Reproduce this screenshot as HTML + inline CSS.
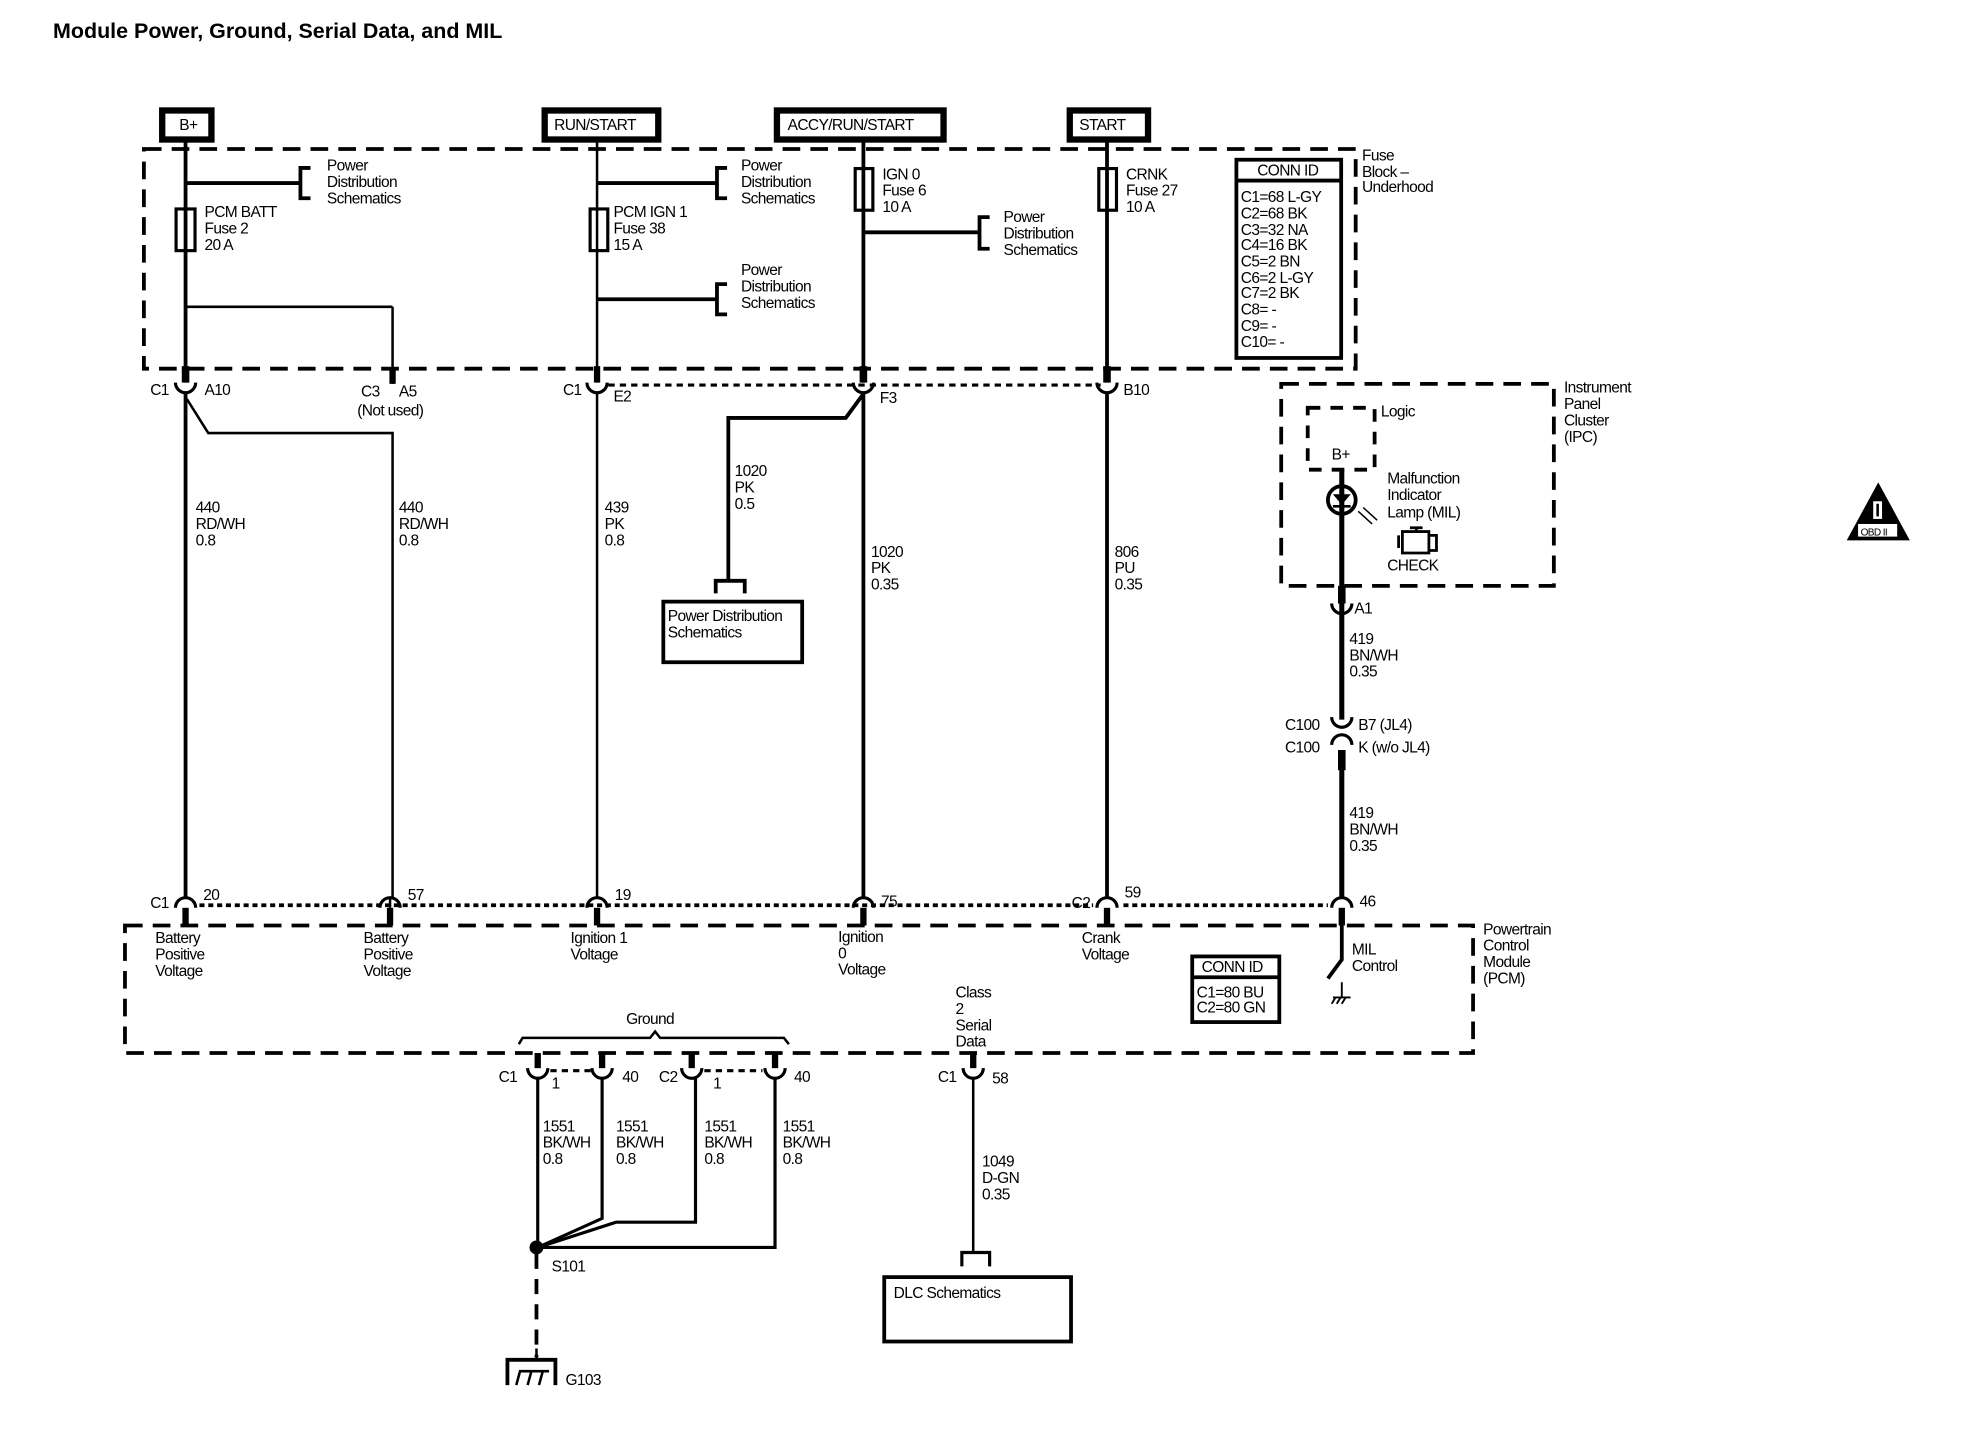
<!DOCTYPE html>
<html><head><meta charset="utf-8"><style>
html,body{margin:0;padding:0;background:#fff;}
svg{display:block}
text{font-family:"Liberation Sans",sans-serif;font-size:12.3px;fill:#000;letter-spacing:-0.5px}
.b{font-weight:bold}
</style></head><body>
<svg width="1980" height="1440" viewBox="0 0 1568.6 1140.5" preserveAspectRatio="none" xmlns="http://www.w3.org/2000/svg">
<text x="42" y="30" class="b" style="font-size:17px;letter-spacing:0">Module Power, Ground, Serial Data, and MIL</text>

<g fill="none" stroke="#000">
<rect x="128.5" y="87.5" width="39" height="23" stroke-width="5"/>
<rect x="431.5" y="87.5" width="90" height="23" stroke-width="5"/>
<rect x="615.5" y="87.5" width="132" height="23" stroke-width="5"/>
<rect x="847.5" y="87.5" width="62" height="23" stroke-width="5"/>
<rect x="114" y="118" width="960" height="174" stroke-width="3" stroke-dasharray="14,8"/>
<rect x="1015" y="304" width="216" height="160" stroke-width="3" stroke-dasharray="14,8"/>
<rect x="1036" y="323" width="53" height="49" stroke-width="3" stroke-dasharray="10,8"/>
<rect x="99" y="733" width="1068" height="101" stroke-width="3" stroke-dasharray="14,8"/>

<line x1="147" y1="111" x2="147" y2="303" stroke-width="3"/>
<line x1="147" y1="145" x2="238" y2="145" stroke-width="3"/>
<path d="M246 133 H238 V157 H246" stroke-width="3"/>
<rect x="139.5" y="165.5" width="15" height="33" stroke-width="2.5"/>
<line x1="147" y1="243" x2="311" y2="243" stroke-width="2"/>
<line x1="311" y1="243" x2="311" y2="304" stroke-width="2"/>
<line x1="311" y1="292" x2="311" y2="304" stroke-width="5"/>
<line x1="147" y1="290" x2="147" y2="303" stroke-width="6"/>
<path d="M139 303 A8 8 0 0 0 155 303" stroke-width="2.5"/>
<line x1="147" y1="311" x2="147" y2="711" stroke-width="3"/>
<path d="M148 316 L165 343 H311 V711" stroke-width="2"/>

<line x1="473" y1="111" x2="473" y2="303" stroke-width="2"/>
<line x1="473" y1="145" x2="568" y2="145" stroke-width="3"/>
<path d="M576 133 H568 V157 H576" stroke-width="3"/>
<rect x="467.5" y="165.5" width="14" height="33" stroke-width="2.5"/>
<line x1="473" y1="237" x2="568" y2="237" stroke-width="3"/>
<path d="M576 225 H568 V249 H576" stroke-width="3"/>
<line x1="473" y1="290" x2="473" y2="303" stroke-width="5"/>
<path d="M465 303 A8 8 0 0 0 481 303" stroke-width="2.5"/>
<line x1="473" y1="311" x2="473" y2="711" stroke-width="2"/>
<line x1="482" y1="305" x2="872" y2="305" stroke-width="2.5" stroke-dasharray="5,4"/>

<line x1="684" y1="111" x2="684" y2="303" stroke-width="3"/>
<rect x="677.5" y="133.5" width="14" height="33" stroke-width="2.5"/>
<line x1="684" y1="184" x2="776" y2="184" stroke-width="3"/>
<path d="M784 172 H776 V197 H784" stroke-width="3"/>
<line x1="684" y1="290" x2="684" y2="303" stroke-width="6"/>
<path d="M676 303 A8 8 0 0 0 692 303" stroke-width="2.5"/>
<line x1="684" y1="311" x2="684" y2="711" stroke-width="3"/>
<path d="M684 312 L670 331 H577 V460" stroke-width="3"/>
<path d="M567 470 V460 H590 V470" stroke-width="3"/>
<rect x="525.5" y="476.5" width="110" height="48" stroke-width="3"/>

<line x1="877" y1="111" x2="877" y2="303" stroke-width="3"/>
<rect x="870.5" y="133.5" width="14" height="33" stroke-width="2.5"/>
<line x1="877" y1="290" x2="877" y2="303" stroke-width="6"/>
<path d="M869 303 A8 8 0 0 0 885 303" stroke-width="2.5"/>
<line x1="877" y1="311" x2="877" y2="711" stroke-width="3"/>

<rect x="979.5" y="126.5" width="83" height="157" stroke-width="3"/>
<line x1="979" y1="143" x2="1063" y2="143" stroke-width="3"/>

<line x1="1063" y1="372" x2="1063" y2="570" stroke-width="4"/>
<circle cx="1063" cy="396" r="11" stroke-width="3"/>
<path d="M1057 392 L1069 392 L1063 399 Z" fill="#000" stroke-width="1"/>
<line x1="1056" y1="401" x2="1070" y2="401" stroke-width="2"/>
<path d="M1076 405 L1087 415 M1080 402 L1091 412" stroke-width="1.2"/>
<path d="M1108 424 V434 M1111 421 H1132 V438 H1111 Z M1122 418 V421 M1117 418 H1127 M1132 424 H1138 V436 H1132" stroke-width="2.2"/>
<line x1="1063" y1="464" x2="1063" y2="478" stroke-width="6"/>
<path d="M1055 478 A8 8 0 0 0 1071 478" stroke-width="2.5"/>
<path d="M1055 568 A8 8 0 0 0 1071 568" stroke-width="2.5"/>
<path d="M1055 590 A8 8 0 0 1 1071 590" stroke-width="2.5"/>
<line x1="1063" y1="594" x2="1063" y2="711" stroke-width="4"/>
<line x1="1063" y1="594" x2="1063" y2="610" stroke-width="6"/>

<g stroke-width="2.5">
<path d="M139 719 A8 8 0 0 1 155 719"/><path d="M301 719 A8 8 0 0 1 317 719"/>
<path d="M465 719 A8 8 0 0 1 481 719"/><path d="M676 719 A8 8 0 0 1 692 719"/>
<path d="M869 719 A8 8 0 0 1 885 719"/><path d="M1055 719 A8 8 0 0 1 1071 719"/>
</g>
<g stroke-width="5">
<line x1="147" y1="719" x2="147" y2="733"/><line x1="309" y1="719" x2="309" y2="733"/>
<line x1="473" y1="719" x2="473" y2="733"/><line x1="684" y1="719" x2="684" y2="733"/>
<line x1="877" y1="719" x2="877" y2="733"/><line x1="1063" y1="719" x2="1063" y2="733"/>
</g>
<line x1="158" y1="717" x2="866" y2="717" stroke-width="3" stroke-dasharray="4,3"/>
<line x1="890" y1="717" x2="1052" y2="717" stroke-width="3" stroke-dasharray="4,3"/>
<line x1="309" y1="711" x2="309" y2="719" stroke-width="2"/>
<path d="M1063 733 V760 L1052 775" stroke-width="3"/>
<path d="M1063 778 V790 M1056 790 H1070 M1058 790 L1055 795 M1062 790 L1059 795 M1066 790 L1063 795" stroke-width="1.5"/>
<rect x="944.5" y="757.5" width="69" height="52" stroke-width="3"/>
<line x1="944" y1="774" x2="1014" y2="774" stroke-width="3"/>

<path d="M411 827 L414 822 H515 L519 817 L523 822 H621 L625 827" stroke-width="2"/>
<g stroke-width="5">
<line x1="426" y1="834" x2="426" y2="846"/><line x1="477" y1="834" x2="477" y2="846"/>
<line x1="548" y1="834" x2="548" y2="846"/><line x1="614" y1="834" x2="614" y2="846"/>
<line x1="771" y1="834" x2="771" y2="846"/>
</g>
<g stroke-width="2.5">
<path d="M418 846 A8 8 0 0 0 434 846"/><path d="M469 846 A8 8 0 0 0 485 846"/>
<path d="M540 846 A8 8 0 0 0 556 846"/><path d="M606 846 A8 8 0 0 0 622 846"/>
<path d="M763 846 A8 8 0 0 0 779 846"/>
</g>
<line x1="436" y1="848" x2="468" y2="848" stroke-width="2.5" stroke-dasharray="5,4"/>
<line x1="558" y1="848" x2="604" y2="848" stroke-width="2.5" stroke-dasharray="5,4"/>
<g stroke-width="2.5">
<line x1="426" y1="854" x2="426" y2="988"/>
<path d="M477 854 V965 L426 988"/>
<path d="M551 854 V968 H488 L426 988"/>
<path d="M614 854 V988 H426"/>
</g>
<circle cx="425" cy="988" r="5" fill="#000"/>
<line x1="425" y1="993" x2="425" y2="1075" stroke-width="3" stroke-dasharray="12,8"/>
<path d="M402 1097 V1077 H440 V1097" stroke-width="3"/>
<line x1="425" y1="1068" x2="425" y2="1077" stroke-width="2"/>
<path d="M409 1097 L412 1086 H435 M418 1097 L421 1086 M427 1097 L430 1086" stroke-width="2"/>
<line x1="771" y1="854" x2="771" y2="992" stroke-width="2"/>
<path d="M762 1003 V992 H784 V1003" stroke-width="2.5"/>
<rect x="700.5" y="1011.5" width="148" height="51" stroke-width="3"/>

<path d="M1488 382 L1513 428 H1463 Z" fill="#000" stroke="none"/>
<rect x="1472" y="415" width="31" height="10" fill="#fff" stroke="none"/>
<rect x="1484" y="397" width="7" height="14" fill="#fff" stroke="none"/>
<rect x="1486.5" y="399" width="2" height="10" fill="#000" stroke="none"/>
</g>

<g>
<text x="142" y="103">B+</text>
<text x="439" y="103">RUN/START</text>
<text x="624" y="103">ACCY/RUN/START</text>
<text x="855" y="103">START</text>
<text x="259" y="135">Power</text><text x="259" y="148">Distribution</text><text x="259" y="161">Schematics</text>
<text x="162" y="172">PCM  BATT</text><text x="162" y="185">Fuse 2</text><text x="162" y="198">20 A</text>
<text x="587" y="135">Power</text><text x="587" y="148">Distribution</text><text x="587" y="161">Schematics</text>
<text x="486" y="172">PCM IGN 1</text><text x="486" y="185">Fuse 38</text><text x="486" y="198">15 A</text>
<text x="587" y="218">Power</text><text x="587" y="231">Distribution</text><text x="587" y="244">Schematics</text>
<text x="699" y="142">IGN 0</text><text x="699" y="155">Fuse 6</text><text x="699" y="168">10 A</text>
<text x="795" y="176">Power</text><text x="795" y="189">Distribution</text><text x="795" y="202">Schematics</text>
<text x="892" y="142">CRNK</text><text x="892" y="155">Fuse 27</text><text x="892" y="168">10 A</text>
<text x="996" y="139">CONN ID</text>
<text x="983" y="160">C1=68 L-GY</text><text x="983" y="173">C2=68 BK</text><text x="983" y="186">C3=32 NA</text>
<text x="983" y="198">C4=16 BK</text><text x="983" y="211">C5=2 BN</text><text x="983" y="224">C6=2 L-GY</text>
<text x="983" y="236">C7=2 BK</text><text x="983" y="249">C8= -</text><text x="983" y="262">C9= -</text><text x="983" y="275">C10= -</text>
<text x="1079" y="127">Fuse</text><text x="1079" y="140">Block –</text><text x="1079" y="152">Underhood</text>

<text x="119" y="313">C1</text><text x="162" y="313">A10</text>
<text x="286" y="314">C3</text><text x="316" y="314">A5</text><text x="283" y="329">(Not used)</text>
<text x="446" y="313">C1</text><text x="486" y="318">E2</text>
<text x="697" y="319">F3</text>
<text x="890" y="313">B10</text>

<text x="155" y="406">440</text><text x="155" y="419">RD/WH</text><text x="155" y="432">0.8</text>
<text x="316" y="406">440</text><text x="316" y="419">RD/WH</text><text x="316" y="432">0.8</text>
<text x="479" y="406">439</text><text x="479" y="419">PK</text><text x="479" y="432">0.8</text>
<text x="582" y="377">1020</text><text x="582" y="390">PK</text><text x="582" y="403">0.5</text>
<text x="690" y="441">1020</text><text x="690" y="454">PK</text><text x="690" y="467">0.35</text>
<text x="883" y="441">806</text><text x="883" y="454">PU</text><text x="883" y="467">0.35</text>
<text x="529" y="492">Power Distribution</text><text x="529" y="505">Schematics</text>

<text x="1239" y="311">Instrument</text><text x="1239" y="324">Panel</text><text x="1239" y="337">Cluster</text><text x="1239" y="350">(IPC)</text>
<text x="1094" y="330">Logic</text>
<text x="1055" y="364">B+</text>
<text x="1099" y="383">Malfunction</text><text x="1099" y="396">Indicator</text><text x="1099" y="410">Lamp (MIL)</text>
<text x="1099" y="452">CHECK</text>
<text x="1073" y="486">A1</text>
<text x="1069" y="510">419</text><text x="1069" y="523">BN/WH</text><text x="1069" y="536">0.35</text>
<text x="1018" y="578">C100</text><text x="1076" y="578">B7 (JL4)</text>
<text x="1018" y="596">C100</text><text x="1076" y="596">K (w/o JL4)</text>
<text x="1069" y="648">419</text><text x="1069" y="661">BN/WH</text><text x="1069" y="674">0.35</text>

<text x="119" y="719">C1</text><text x="161" y="713">20</text>
<text x="323" y="713">57</text>
<text x="487" y="713">19</text>
<text x="698" y="718">75</text>
<text x="849" y="719">C2</text><text x="891" y="711">59</text>
<text x="1077" y="718">46</text>
<text x="123" y="747">Battery</text><text x="123" y="760">Positive</text><text x="123" y="773">Voltage</text>
<text x="288" y="747">Battery</text><text x="288" y="760">Positive</text><text x="288" y="773">Voltage</text>
<text x="452" y="747">Ignition 1</text><text x="452" y="760">Voltage</text>
<text x="664" y="746">Ignition</text><text x="664" y="759">0</text><text x="664" y="772">Voltage</text>
<text x="857" y="747">Crank</text><text x="857" y="760">Voltage</text>
<text x="1071" y="756">MIL</text><text x="1071" y="769">Control</text>
<text x="1175" y="740">Powertrain</text><text x="1175" y="753">Control</text><text x="1175" y="766">Module</text><text x="1175" y="779">(PCM)</text>
<text x="952" y="770">CONN ID</text>
<text x="948" y="790">C1=80 BU</text><text x="948" y="802">C2=80 GN</text>
<text x="757" y="790">Class</text><text x="757" y="803">2</text><text x="757" y="816">Serial</text><text x="757" y="829">Data</text>
<text x="496" y="811">Ground</text>
<text x="395" y="857">C1</text><text x="437" y="862">1</text><text x="493" y="857">40</text>
<text x="522" y="857">C2</text><text x="565" y="862">1</text><text x="629" y="857">40</text>
<text x="743" y="857">C1</text><text x="786" y="858">58</text>
<text x="430" y="896">1551</text><text x="430" y="909">BK/WH</text><text x="430" y="922">0.8</text>
<text x="488" y="896">1551</text><text x="488" y="909">BK/WH</text><text x="488" y="922">0.8</text>
<text x="558" y="896">1551</text><text x="558" y="909">BK/WH</text><text x="558" y="922">0.8</text>
<text x="620" y="896">1551</text><text x="620" y="909">BK/WH</text><text x="620" y="922">0.8</text>
<text x="778" y="924">1049</text><text x="778" y="937">D-GN</text><text x="778" y="950">0.35</text>
<text x="437" y="1007">S101</text>
<text x="448" y="1097">G103</text>
<text x="708" y="1028">DLC Schematics</text>
<text x="1474" y="424" style="font-size:8px;fill:#000">OBD II</text>
</g>
</svg>
</body></html>
